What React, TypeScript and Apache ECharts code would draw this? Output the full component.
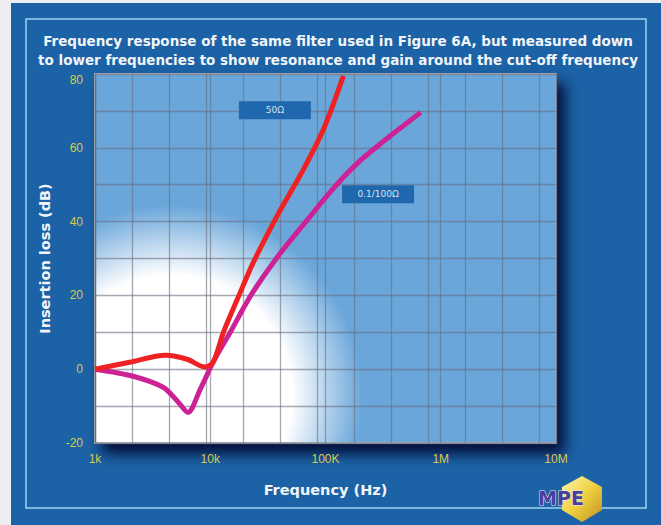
import React, { useEffect, useRef } from 'react';
import * as echarts from 'echarts';

const TITLE_LINES = [
  'Frequency response of the same filter used in Figure 6A, but measured down',
  'to lower frequencies to show resonance and gain around the cut-off frequency',
];
const X_TICK_VALUES = [1000, 10000, 100000, 1000000, 10000000];
const X_TICK_LABELS = ['1k', '10k', '100K', '1M', '10M'];
const Y_LABEL_STEP = 20;

const RED_NAME = '50Ω';
const RED_FREQ = [1000, 2000, 4100, 6300, 9000, 10600, 13000, 17200, 23700, 38000, 64000, 96000, 143000];
const RED_DB = [0, 1.9, 3.8, 2.7, 0.6, 1.9, 10, 19, 29, 41.5, 54, 65, 79.5];

const MAG_NAME = '0.1/100Ω';
const MAG_FREQ = [1000, 2140, 3900, 5300, 6400, 8200, 10600, 14900, 22300, 38000, 74000, 100000, 143000, 200000, 284000, 400000, 670000];
const MAG_DB = [0, -1.9, -4.9, -9, -11.7, -5.4, 1.9, 10, 19.8, 30.3, 41.5, 46.5, 52, 56.5, 60.5, 64.2, 69.6];

// label box anchor positions (data units)
const RED_LABEL_AT = [36400, 70.2];
const MAG_LABEL_AT = [286000, 47.4];

const BLUE = '#1b62a6';
const GRID_LINE = 'rgba(105,110,125,0.6)';

export default function App() {
  const ref = useRef<HTMLDivElement>(null);
  useEffect(() => {
    document.body.style.margin = '0';
    const chart = echarts.init(ref.current!, undefined, { renderer: 'svg' });
    const pairs = (f: number[], d: number[]) => f.map((v, i) => [v, d[i]]);
    const labelPoint = (name: string, at: number[], w: number) => ({
      coord: at,
      symbol: 'rect',
      symbolSize: [w, 18],
      itemStyle: { color: '#2068ad' },
      label: {
        show: true,
        position: 'inside',
        formatter: name,
        color: '#d6e2ee',
        fontSize: 9,
        fontFamily: 'DejaVu Sans',
      },
    });
    const nameStyle = { color: '#f2f5f8', fontSize: 14.5, fontWeight: 'bold', fontFamily: 'DejaVu Sans' };
    chart.setOption({
      animation: false,
      backgroundColor: BLUE,
      title: {
        text: TITLE_LINES.join('\n'),
        left: 333,
        top: 26,
        textAlign: 'center',
        textStyle: {
          color: '#f2f5f8',
          fontSize: 13.5,
          fontWeight: 'bold',
          fontFamily: 'DejaVu Sans',
          lineHeight: 19,
        },
      },
      grid: {
        left: 95,
        top: 74,
        width: 461,
        height: 369,
        show: true,
        borderColor: '#a4abb3',
        borderWidth: 2,
        backgroundColor: new echarts.graphic.RadialGradient(
          172,
          395,
          200,
          [
            { offset: 0, color: '#ffffff' },
            { offset: 0.6, color: '#ffffff' },
            { offset: 0.95, color: '#6aa6da' },
            { offset: 1, color: '#6aa6da' },
          ],
          true
        ),
        shadowColor: 'rgba(0,5,40,0.85)',
        shadowBlur: 14,
        shadowOffsetX: 8,
        shadowOffsetY: 10,
      },
      xAxis: [
        {
          type: 'log',
          logBase: 10,
          min: X_TICK_VALUES[0],
          max: X_TICK_VALUES[X_TICK_VALUES.length - 1],
          name: 'Frequency (Hz)',
          nameLocation: 'middle',
          nameGap: 39,
          nameTextStyle: nameStyle,
          axisLine: { show: false },
          axisTick: { show: false },
          axisLabel: {
            color: '#dcc84a',
            fontSize: 12,
            fontFamily: 'Liberation Sans',
            margin: 10,
            formatter: (v: number) => {
              const i = X_TICK_VALUES.findIndex((t) => Math.abs(t - v) / t < 1e-6);
              return i >= 0 ? X_TICK_LABELS[i] : '';
            },
          },
          splitLine: { show: true, lineStyle: { color: GRID_LINE, width: 1.3 } },
        },
        {
          type: 'value',
          position: 'top',
          min: 0,
          max: 12.46,
          interval: 1,
          axisLine: { show: false },
          axisTick: { show: false },
          axisLabel: { show: false },
          splitLine: { show: true, lineStyle: { color: GRID_LINE, width: 1.3 } },
        },
      ],
      yAxis: {
        type: 'value',
        min: -20,
        max: 80,
        interval: 10,
        name: 'Insertion loss (dB)',
        nameLocation: 'middle',
        nameRotate: 90,
        nameGap: 43,
        nameTextStyle: nameStyle,
        axisLine: { show: false },
        axisTick: { show: false },
        axisLabel: {
          color: '#dcc84a',
          fontSize: 12,
          fontFamily: 'Liberation Sans',
          margin: 12,
          verticalAlignMaxLabel: 'top',
          formatter: (v: number) => (v % Y_LABEL_STEP === 0 ? String(v) : ''),
        },
        splitLine: { show: true, lineStyle: { color: GRID_LINE, width: 1.3 } },
      },
      series: [
        {
          name: RED_NAME,
          type: 'line',
          xAxisIndex: 0,
          data: pairs(RED_FREQ, RED_DB),
          smooth: 0.3,
          showSymbol: false,
          symbol: 'none',
          lineStyle: { color: '#ee2222', width: 5 },
          z: 5,
          markPoint: { silent: true, data: [labelPoint(RED_NAME, RED_LABEL_AT, 72)] },
        },
        {
          name: MAG_NAME,
          type: 'line',
          xAxisIndex: 0,
          data: pairs(MAG_FREQ, MAG_DB),
          smooth: 0.3,
          showSymbol: false,
          symbol: 'none',
          lineStyle: { color: '#cc2295', width: 5 },
          z: 4,
          markPoint: { silent: true, data: [labelPoint(MAG_NAME, MAG_LABEL_AT, 72)] },
        },
      ],
      graphic: [
        { type: 'rect', shape: { x: 0, y: 0, width: 11, height: 525 }, style: { fill: '#eceef0' } },
        { type: 'rect', shape: { x: 0, y: 0, width: 661, height: 3 }, style: { fill: '#eceef0' } },
        {
          type: 'rect',
          shape: { x: 26, y: 19, width: 620, height: 489 },
          style: { fill: 'none', stroke: '#9fd2f2', lineWidth: 1.5 },
        },
        {
          type: 'polygon',
          shape: { points: [[582, 476], [602, 487], [602, 510], [582, 522], [562, 510], [562, 487]] },
          style: {
            fill: new echarts.graphic.LinearGradient(0, 0, 1, 1, [
              { offset: 0, color: '#fff6b0' },
              { offset: 0.5, color: '#f0d040' },
              { offset: 1, color: '#c09020' },
            ]),
          },
        },
        {
          type: 'text',
          x: 561,
          y: 498,
          style: {
            text: 'MPE',
            fill: '#4a3f9c',
            stroke: '#e8e8f0',
            lineWidth: 1,
            font: 'bold 19px "DejaVu Sans"',
            align: 'center',
            verticalAlign: 'middle',
          },
        },
      ],
    });
    return () => chart.dispose();
  }, []);
  return <div ref={ref} style={{ width: 661, height: 525 }} />;
}
